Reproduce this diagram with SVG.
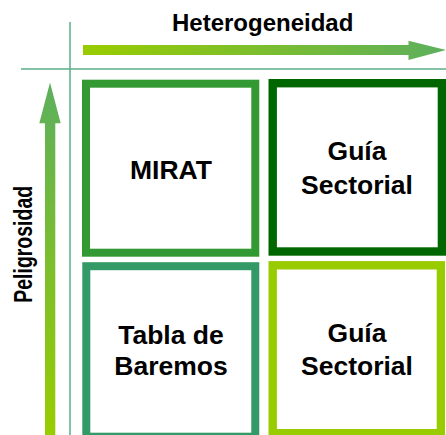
<svg xmlns="http://www.w3.org/2000/svg" width="446" height="435" viewBox="0 0 446 435">
<defs>
<linearGradient id="gh" x1="83" y1="0" x2="446" y2="0" gradientUnits="userSpaceOnUse">
<stop offset="0" stop-color="#99CC00"/>
<stop offset="1" stop-color="#5DAF5D"/>
</linearGradient>
<linearGradient id="gv" x1="0" y1="435" x2="0" y2="82" gradientUnits="userSpaceOnUse">
<stop offset="0" stop-color="#99CC00"/>
<stop offset="1" stop-color="#5DAF5D"/>
</linearGradient>
<style>
.lbl{font-family:"Liberation Sans",Arial,sans-serif;font-weight:bold;font-size:26.5px;fill:#000;text-anchor:middle}
.ax{font-family:"Liberation Sans",Arial,sans-serif;font-weight:bold;fill:#000;text-anchor:middle}
.grid{stroke:#5BAE88;stroke-width:1.5;fill:none}
.box{fill:#fff}
</style>
</defs>
<g id="axes">
<line class="grid" x1="70" y1="22" x2="70" y2="435"/>
<line class="grid" x1="21" y1="69" x2="446" y2="69"/>
<path id="arrow-h" d="M83,45 H408.5 V40.7 L446,50 L408.5,60 V55 H83 Z" fill="url(#gh)"/>
<path id="arrow-v" d="M45,435 V123.3 H39.3 L50,82.5 L60.7,123.3 H55.3 V435 Z" fill="url(#gv)"/>
<text class="ax" x="262.7" y="30.5" font-size="24">Heterogeneidad</text>
<text class="ax" font-size="26" textLength="117" lengthAdjust="spacingAndGlyphs" transform="translate(31.7,244.3) rotate(-90)">Peligrosidad</text>
</g>
<g id="connectors"></g>
<g id="mirat">
<rect class="box" x="86" y="83.7" width="169.3" height="169" stroke="#339933" stroke-width="8"/>
<text class="lbl" x="171" y="178.5">MIRAT</text>
</g>
<g id="guia-top">
<rect class="box" x="272.7" y="83.2" width="169.2" height="168.3" stroke="#006600" stroke-width="8.4"/>
<text class="lbl" x="357" y="160">Guía</text>
<text class="lbl" x="357" y="194.3">Sectorial</text>
</g>
<g id="tabla">
<rect class="box" x="86.3" y="266.2" width="169" height="170.5" stroke="#339966" stroke-width="8"/>
<text class="lbl" x="171" y="344.3">Tabla de</text>
<text class="lbl" x="171" y="375">Baremos</text>
</g>
<g id="guia-bottom">
<rect class="box" x="272.7" y="265.3" width="168.2" height="167.9" stroke="#99CC00" stroke-width="8.4"/>
<text class="lbl" x="357" y="342.3">Guía</text>
<text class="lbl" x="357" y="375">Sectorial</text>
</g>
</svg>
